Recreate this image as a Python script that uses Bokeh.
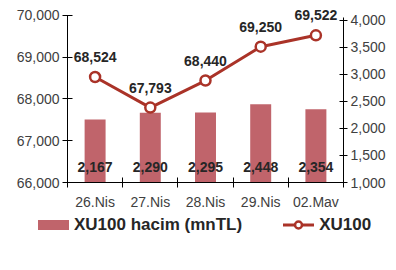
from bokeh.plotting import figure
from bokeh.layouts import column
from bokeh.models import (Range1d, LinearAxis, FixedTicker, NumeralTickFormatter,
                          ColumnDataSource, LabelSet, Div)
from bokeh.core.properties import value
from bokeh.embed import file_html
from bokeh.resources import INLINE

categories = ["26.Nis", "27.Nis", "28.Nis", "29.Nis", "02.Mav"]
volume = [2167, 2290, 2295, 2448, 2354]          # XU100 hacim (mnTL), right axis
index_vals = [68524, 67793, 68440, 69250, 69522]  # XU100, left axis
left_ticks = [66000, 67000, 68000, 69000, 70000]
right_ticks = [1000, 1500, 2000, 2500, 3000, 3500, 4000]
series_names = ["XU100 hacim (mnTL)", "XU100"]

FONT = "Liberation Sans"
BAR_COLOR = "#C0646B"
LINE_COLOR = "#AA3328"
TEXT_COLOR = "#404040"
LABEL_COLOR = "#262626"

n = len(categories)
xpos = [i + 0.5 for i in range(n)]   # category slot centres

src = ColumnDataSource(dict(
    x=xpos,
    vol=volume,
    idx=index_vals,
    vol_txt=[f"{v:,}" for v in volume],
    idx_txt=[f"{v:,}" for v in index_vals],
    base=[right_ticks[0]] * n,
))

W = 388
p = figure(width=W, height=212, x_range=Range1d(0, n),
           y_range=Range1d(left_ticks[0], 70188),
           x_axis_location=None, y_axis_location=None,
           output_backend="svg", toolbar_location=None)
p.min_border_left = 67
p.min_border_right = 42
p.min_border_top = 7
p.min_border_bottom = 27
p.outline_line_color = None
p.background_fill_color = "white"
p.border_fill_color = "white"
p.grid.visible = False

p.extra_y_ranges = {"vol": Range1d(right_ticks[0], 4236)}

def style_axis(ax):
    ax.axis_line_color = "black"
    ax.axis_line_width = 1
    ax.major_tick_line_color = "black"
    ax.minor_tick_line_color = "black"
    ax.major_label_text_font = FONT
    ax.major_label_text_font_size = "14px"
    ax.major_label_text_color = TEXT_COLOR

yl = LinearAxis(ticker=FixedTicker(ticks=left_ticks),
                formatter=NumeralTickFormatter(format="0,0"),
                bounds=(left_ticks[0], left_ticks[-1]))
style_axis(yl)
yl.major_tick_in = 5
yl.major_tick_out = 5
yl.minor_tick_in = 0
yl.minor_tick_out = 0
yl.major_label_standoff = 3
p.add_layout(yl, "left")

yr = LinearAxis(y_range_name="vol", ticker=FixedTicker(ticks=right_ticks),
                formatter=NumeralTickFormatter(format="0,0"),
                bounds=(right_ticks[0], 4050))
style_axis(yr)
yr.major_tick_in = 4
yr.major_tick_out = 4
yr.minor_tick_in = 0
yr.minor_tick_out = 0
yr.major_label_standoff = 3
p.add_layout(yr, "right")

xa = LinearAxis(ticker=FixedTicker(ticks=xpos, minor_ticks=list(range(n + 1))),
                major_label_overrides={x: c for x, c in zip(xpos, categories)})
style_axis(xa)
xa.major_tick_in = 0
xa.major_tick_out = 0
xa.minor_tick_in = 5
xa.minor_tick_out = 5
xa.major_label_standoff = 6
p.add_layout(xa, "below")

bars = p.vbar(x="x", top="vol", bottom="base", width=0.38, source=src,
              y_range_name="vol", fill_color=BAR_COLOR, line_color=None)
line = p.line(x="x", y="idx", source=src, line_color=LINE_COLOR, line_width=3)
pts = p.scatter(x="x", y="idx", source=src, size=10, fill_color="white",
                line_color=LINE_COLOR, line_width=2.5)

p.add_layout(LabelSet(x="x", y="idx", text="idx_txt", source=src,
                      y_offset=20, text_align="center", text_baseline="middle",
                      text_font=value(FONT), text_font_size="14px", text_font_style="bold",
                      text_color=LABEL_COLOR))
p.add_layout(LabelSet(x="x", y="base", text="vol_txt", source=src,
                      y_range_name="vol",
                      y_offset=16, text_align="center", text_baseline="middle",
                      text_font=value(FONT), text_font_size="14px", text_font_style="bold",
                      text_color=LABEL_COLOR))

# legend strip below the chart (HTML, real text)
bar_key = (f'<span style="display:inline-block;width:31px;height:10px;'
           f'background:{BAR_COLOR};margin-right:5px;"></span>')
line_key = (f'<svg width="31" height="10" style="margin-left:41px;margin-right:5px;">'
            f'<line x1="0" y1="5" x2="31" y2="5" stroke="{LINE_COLOR}" stroke-width="3"/>'
            f'<circle cx="15.5" cy="5" r="3.5" fill="white" stroke="{LINE_COLOR}" '
            f'stroke-width="2.5"/></svg>')
legend_html = (f'<div style="display:flex;align-items:center;height:26px;'
               f'padding-left:38px;font-family:\'{FONT}\';font-size:17px;'
               f'font-weight:bold;color:{LABEL_COLOR};white-space:nowrap;">'
               f'{bar_key}<span>{series_names[0]}</span>'
               f'{line_key}<span>{series_names[1]}</span></div>')
legend_div = Div(text=legend_html, width=W, height=26, margin=0)

layout = column(p, legend_div, spacing=0)
open("out.html", "w").write(file_html(layout, INLINE))
